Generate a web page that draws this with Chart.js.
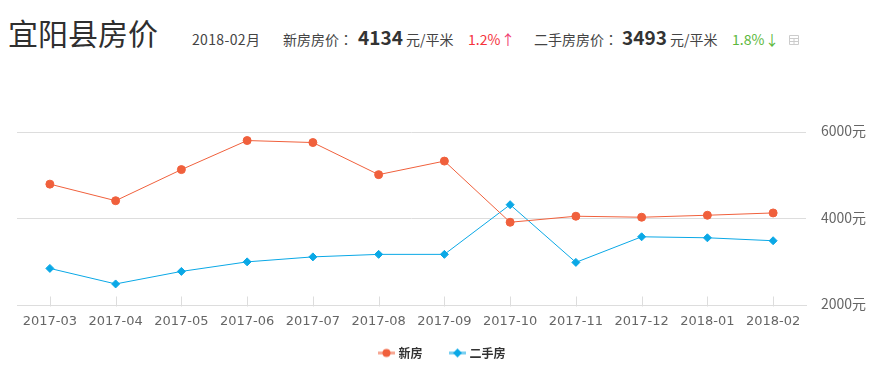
<!DOCTYPE html>
<html><head><meta charset="utf-8">
<script src="https://cdn.jsdelivr.net/npm/chart.js@4"></script>
<style>
html,body{margin:0;padding:0;background:#fff;width:874px;height:375px;overflow:hidden}
body{position:relative;font-family:"Noto Sans CJK SC","Open Sans",sans-serif;color:#333}
canvas{position:absolute;left:0;top:0}
.t{position:absolute;white-space:nowrap;line-height:1}
.c{font-family:"Noto Sans CJK TC"}
</style></head><body>
<div class="t" style="left:8px;top:17px;font-size:30px;color:#2f2f2f">宜阳县房价</div>
<div class="t" style="left:192px;top:32px;font-size:14px;color:#444;letter-spacing:.35px">2018-02月</div>
<div class="t" style="left:283px;top:32px;font-size:14px;color:#444">新房房价<span class="c">：</span></div>
<div class="t" style="left:358px;top:27px;font-size:19px;font-weight:700;color:#333">4134</div>
<div class="t" style="left:406px;top:32px;font-size:14px;color:#444">元/平米</div>
<div class="t" style="left:468px;top:32px;font-size:14px;color:#f5323c">1.2%</div>
<div class="t" style="left:501px;top:32px;font-size:14px;color:#f0386e">↑</div>
<div class="t" style="left:534px;top:32px;font-size:14px;color:#444">二手房房价<span class="c">：</span></div>
<div class="t" style="left:622px;top:27px;font-size:19px;font-weight:700;color:#333">3493</div>
<div class="t" style="left:670px;top:32px;font-size:14px;color:#444">元/平米</div>
<div class="t" style="left:732px;top:32px;font-size:14px;color:#5cb83c">1.8%</div>
<div class="t" style="left:765px;top:32px;font-size:14px;color:#5cb83c">↓</div>
<svg style="position:absolute;left:789px;top:35px" width="10" height="10"><path d="M.5 .5H9.5V9.5H.5ZM.5 3.5H9.5M.5 6.5H9.5M5 3.5V9.5" fill="none" stroke="#ccc"/></svg>
<canvas id="c" width="874" height="375"></canvas>
<script>
const categories=["2017-03","2017-04","2017-05","2017-06","2017-07","2017-08","2017-09","2017-10","2017-11","2017-12","2018-01","2018-02"];
const newHome=[4798,4416,5133,5803,5757,5017,5329,3919,4058,4035,4081,4134];
const resale=[2855,2497,2786,3006,3121,3179,3179,4324,2994,3584,3561,3493];
const yTicks=[2000,4000,6000];
const newColor="#f0603c",resaleColor="#0aa8e6";
function legendIcon(color,style){
  const c=document.createElement('canvas');c.width=17;c.height=11;const x=c.getContext('2d');
  x.strokeStyle=color;x.globalAlpha=.55;x.lineWidth=3;x.beginPath();x.moveTo(0,5.5);x.lineTo(17,5.5);x.stroke();
  x.globalAlpha=1;x.fillStyle=color;x.beginPath();
  if(style==='circle'){x.arc(8.5,5.5,4,0,7);}else{x.moveTo(8.5,1);x.lineTo(13,5.5);x.lineTo(8.5,10);x.lineTo(4,5.5);x.closePath();}
  x.fill();return c;
}
const icons=[legendIcon(newColor,'circle'),legendIcon(resaleColor,'rect')];
const tickMarks={id:'tickMarks',
 beforeDraw(ch){ch.scales.x.bottom=ch.scales.x.top+30;},
 beforeDatasetsDraw(ch){
  const s=ch.scales.x,b=Math.round(s.top)+.5,g=ch.ctx;g.save();g.strokeStyle='#ddd';g.lineWidth=1;g.beginPath();
  s.ticks.forEach((t,i)=>{const p=Math.round(s.getPixelForTick(i))+.5;g.moveTo(p,b-10);g.lineTo(p,b);});g.stroke();g.restore();
}};
new Chart(document.getElementById('c'),{type:'line',
 data:{labels:categories,datasets:[
  {label:'新房',data:newHome,borderColor:newColor,backgroundColor:newColor,borderWidth:1,pointRadius:4,pointStyle:'circle',tension:0},
  {label:'二手房',data:resale,borderColor:resaleColor,backgroundColor:resaleColor,borderWidth:1,pointRadius:4,pointStyle:'rectRot',tension:0}]},
 options:{responsive:false,animation:false,events:[],
  layout:{padding:{left:17,top:132,right:5,bottom:6}},
  plugins:{tooltip:{enabled:false},
   legend:{position:'bottom',labels:{usePointStyle:true,boxWidth:17,boxHeight:11,padding:29,color:'#333',
     font:{family:'"Noto Sans CJK SC"',size:12,weight:'bold'},
     generateLabels(ch){return ch.data.datasets.map((d,i)=>({text:d.label,pointStyle:icons[i],datasetIndex:i,fontColor:'#333',lineWidth:0,strokeStyle:'transparent',fillStyle:'transparent'}));}}}},
  scales:{
   x:{offset:true,grid:{display:false},border:{color:'#ddd'},
      afterFit(s){s.height=12.5;},
      ticks:{color:'#666',font:{family:'"DejaVu Sans"',size:13},maxRotation:0,autoSkip:false,padding:0}},
   y:{position:'right',min:2000,max:6000,afterBuildTicks(s){s.ticks=yTicks.map(v=>({value:v}));},
      afterFit(s){s.width=63;},
      grid:{color:'#ddd',drawTicks:false},border:{display:false},
      ticks:{color:'#666',padding:15,labelOffset:-1.5,font:{family:'"Noto Sans CJK SC"',size:14},callback:v=>v+'元'}}
  }},plugins:[tickMarks]});
</script>
</body></html>
